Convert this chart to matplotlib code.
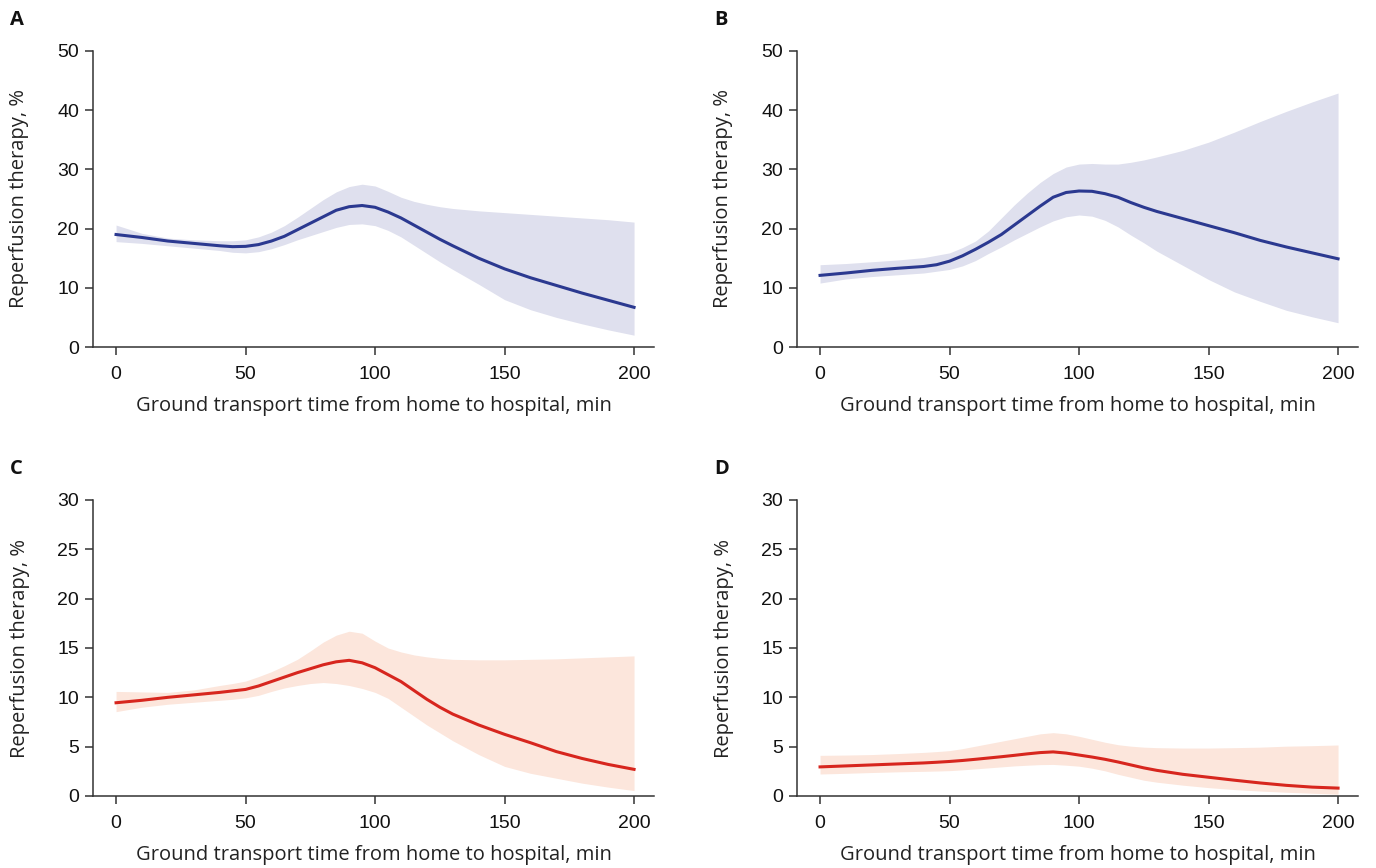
import matplotlib.pyplot as plt
import numpy as np

# ---- data ----
# shared x grid, min (finer steps where the curves bend)
x_min = [0, 10, 20, 30, 40, 45, 50, 55, 60, 65, 70, 75, 80, 85, 90, 95, 100,
         105, 110, 115, 120, 125, 130, 140, 150, 160, 170, 180, 190, 200]

# A
a_fit = [19.0, 18.5, 17.9, 17.5, 17.1, 16.95, 17.0, 17.3, 17.9, 18.7, 19.8, 20.9, 22.0, 23.1, 23.7, 23.9, 23.6,
         22.8, 21.8, 20.6, 19.4, 18.2, 17.1, 15.0, 13.2, 11.7, 10.4, 9.1, 7.9, 6.7]
a_up = [20.6, 19.2, 18.4, 18.1, 17.95, 17.95, 18.1, 18.6, 19.4, 20.5, 21.9, 23.4, 24.9, 26.2, 27.1, 27.5, 27.2,
        26.3, 25.3, 24.6, 24.1, 23.7, 23.4, 23.0, 22.7, 22.4, 22.1, 21.8, 21.5, 21.1]
a_lo = [17.8, 17.5, 17.1, 16.7, 16.3, 16.0, 15.9, 16.1, 16.6, 17.3, 18.1, 18.8, 19.5, 20.2, 20.7, 20.8, 20.5,
        19.7, 18.6, 17.2, 15.8, 14.4, 13.1, 10.6, 8.0, 6.3, 5.0, 3.9, 2.9, 2.0]

# B
b_fit = [12.1, 12.5, 12.95, 13.3, 13.6, 13.9, 14.5, 15.4, 16.5, 17.7, 19.0, 20.6, 22.2, 23.8, 25.3, 26.1, 26.35,
         26.3, 25.9, 25.3, 24.4, 23.6, 22.9, 21.7, 20.5, 19.3, 18.0, 16.9, 15.9, 14.9]
b_up = [13.9, 14.1, 14.4, 14.7, 15.1, 15.5, 15.9, 16.8, 17.9, 19.6, 21.8, 24.0, 26.0, 27.8, 29.3, 30.4, 30.9,
        31.0, 30.9, 30.9, 31.2, 31.6, 32.1, 33.2, 34.6, 36.3, 38.1, 39.8, 41.4, 42.9]
b_lo = [10.8, 11.5, 11.9, 12.2, 12.5, 12.8, 13.1, 13.7, 14.6, 15.8, 16.9, 18.1, 19.2, 20.3, 21.3, 22.0, 22.3,
        22.1, 21.4, 20.3, 18.9, 17.6, 16.2, 13.8, 11.4, 9.3, 7.7, 6.2, 5.1, 4.1]

# C
c_fit = [9.45, 9.7, 10.0, 10.25, 10.5, 10.65, 10.8, 11.15, 11.6, 12.05, 12.5, 12.9, 13.3, 13.6, 13.75, 13.5, 13.0,
         12.3, 11.6, 10.7, 9.8, 9.0, 8.3, 7.2, 6.25, 5.4, 4.5, 3.8, 3.2, 2.7]
c_up = [10.6, 10.55, 10.5, 10.75, 11.2, 11.4, 11.65, 12.1, 12.6, 13.2, 13.85, 14.7, 15.6, 16.3, 16.7, 16.5, 15.7,
        15.0, 14.6, 14.3, 14.1, 13.95, 13.85, 13.8, 13.8, 13.85, 13.9, 14.0, 14.1, 14.2]
c_lo = [8.55, 9.0, 9.3, 9.5, 9.7, 9.8, 9.95, 10.2, 10.6, 10.95, 11.2, 11.4, 11.5, 11.4, 11.2, 10.9, 10.5,
        9.9, 9.0, 8.1, 7.2, 6.4, 5.6, 4.2, 3.0, 2.3, 1.8, 1.3, 0.9, 0.55]

# D
d_fit = [2.95, 3.05, 3.15, 3.25, 3.35, 3.42, 3.5, 3.6, 3.72, 3.85, 3.98, 4.12, 4.27, 4.4, 4.47, 4.35, 4.15,
         3.95, 3.72, 3.45, 3.15, 2.85, 2.6, 2.2, 1.9, 1.6, 1.32, 1.08, 0.9, 0.8]
d_up = [4.12, 4.15, 4.2, 4.3, 4.42, 4.5, 4.6, 4.8, 5.05, 5.3, 5.55, 5.8, 6.05, 6.3, 6.42, 6.3, 6.05,
        5.75, 5.45, 5.2, 5.05, 4.95, 4.9, 4.86, 4.86, 4.9, 4.95, 5.05, 5.1, 5.17]
d_lo = [2.23, 2.3, 2.38, 2.45, 2.5, 2.53, 2.57, 2.65, 2.75, 2.85, 2.95, 3.05, 3.12, 3.18, 3.2, 3.12, 3.02,
        2.82, 2.55, 2.2, 1.9, 1.6, 1.4, 1.1, 0.85, 0.65, 0.5, 0.38, 0.28, 0.18]

xticks = [0, 50, 100, 150, 200]
xlabel = 'Ground transport time from home to hospital, min'
ylabel = 'Reperfusion therapy, %'

BLUE = '#2b3990'
BLUE_FILL = '#dfe0ee'
RED = '#d7261e'
RED_FILL = '#fce6dc'
SPINE = '#333333'

LABEL_FONT = ['Open Sans', 'DejaVu Sans']
TICK_FONT = ['Liberation Sans Narrow', 'Liberation Sans', 'DejaVu Sans']

fig = plt.figure(figsize=(13.76, 8.68), dpi=100)
fig.patch.set_facecolor('white')

W, H = 1376, 868
panels = [
    ('A', 93, 51, a_fit, a_up, a_lo, BLUE, BLUE_FILL, 50, 10),
    ('B', 797, 51, b_fit, b_up, b_lo, BLUE, BLUE_FILL, 50, 10),
    ('C', 93, 500, c_fit, c_up, c_lo, RED, RED_FILL, 30, 5),
    ('D', 797, 500, d_fit, d_up, d_lo, RED, RED_FILL, 30, 5),
]

for letter, left, top, fit, up, lo, col, fcol, ymax, ystep in panels:
    ax = fig.add_axes([left / W, (H - top - 296) / H, 561 / W, 296 / H])
    ax.fill_between(x_min, lo, up, color=fcol, lw=0, zorder=1)
    ax.plot(x_min, fit, color=col, lw=2.2, zorder=2, solid_joinstyle='round')
    ax.set_xlim(-8.9, 207.7)
    ax.set_ylim(0, ymax)
    ax.set_xticks(xticks)
    ax.set_yticks(np.arange(0, ymax + 1, ystep))
    for s in ['top', 'right']:
        ax.spines[s].set_visible(False)
    for s in ['left', 'bottom']:
        ax.spines[s].set_color(SPINE)
        ax.spines[s].set_linewidth(1.1)
    ax.tick_params(axis='both', direction='out', length=6, width=1.1, color=SPINE,
                   labelsize=14, labelcolor='#111111', pad=4)
    ax.tick_params(axis='x', pad=8)
    for lab in ax.get_xticklabels() + ax.get_yticklabels():
        lab.set_family(TICK_FONT)
    ax.set_xlabel(xlabel, fontsize=14.5, family=LABEL_FONT, color='#222222', labelpad=9)
    ax.set_ylabel(ylabel, fontsize=14.5, family=LABEL_FONT, color='#222222', labelpad=20)
    fig.text((left - 83) / W, 1 - (top - 31) / H, letter, fontsize=14.5, fontweight='bold',
             family=LABEL_FONT, ha='left', va='center', color='#111111')

plt.savefig('out.png', dpi=100, facecolor='white')
plt.close()
